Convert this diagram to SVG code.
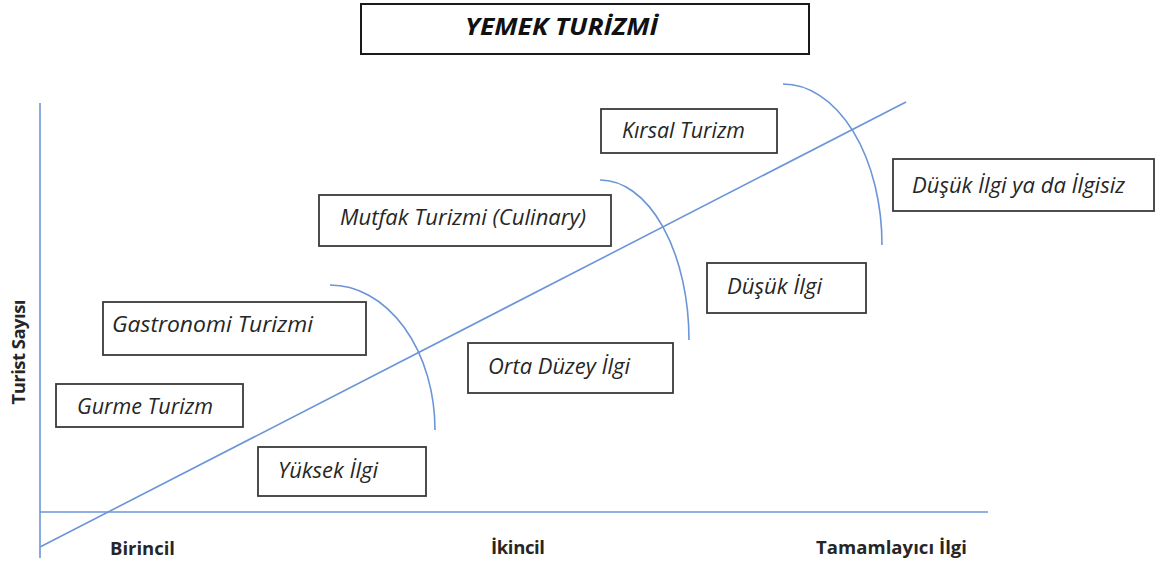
<svg xmlns="http://www.w3.org/2000/svg" width="1159" height="567" viewBox="0 0 1159 567">
<style>
.box{fill:#fff;stroke:#3a3a3a;stroke-width:1.8}
.lbl{font-family:"Open Sans","Noto Sans",sans-serif;font-style:italic;font-size:22.5px;fill:#262626}
.ax{font-family:"Open Sans","Noto Sans",sans-serif;font-weight:bold;font-size:18.5px;fill:#262626}
.ln{fill:none;stroke:#6b95d8;stroke-width:1.6}
</style>
<rect width="1159" height="567" fill="#fff"/>
<g id="title">
<rect x="361" y="4" width="448" height="50" fill="#fff" stroke="#1a1a1a" stroke-width="2"/>
<text x="465" y="35" font-family="Open Sans,sans-serif" font-weight="bold" font-style="italic" font-size="23" fill="#111" textLength="193" lengthAdjust="spacingAndGlyphs">YEMEK TURİZMİ</text>
</g>
<g id="connectors">
<line class="ln" x1="40" y1="103" x2="40" y2="558"/>
<line class="ln" x1="40" y1="512" x2="988" y2="512"/>
<line class="ln" x1="40" y1="547" x2="906" y2="102"/>
<path class="ln" d="M330,285 A105,145 0 0 1 435,430"/>
<path class="ln" d="M600,180 A89,160 0 0 1 689,340"/>
<path class="ln" d="M783,84 A99,161 0 0 1 882,245"/>
</g>
<g id="axis-labels">
<text class="ax" transform="translate(25,352) rotate(-90)" text-anchor="middle" textLength="105">Turist Sayısı</text>
<text class="ax" x="110" y="555" textLength="65">Birincil</text>
<text class="ax" x="491" y="554" textLength="54">İkincil</text>
<text class="ax" x="816" y="554" textLength="151">Tamamlayıcı İlgi</text>
</g>
<g id="gurme"><rect class="box" x="56" y="384" width="187" height="43"/><text class="lbl" x="77" y="414" textLength="136" lengthAdjust="spacingAndGlyphs">Gurme Turizm</text></g>
<g id="gastronomi"><rect class="box" x="103" y="302" width="263" height="53"/><text class="lbl" x="112" y="332" textLength="201" lengthAdjust="spacingAndGlyphs">Gastronomi Turizmi</text></g>
<g id="yuksek"><rect class="box" x="258" y="447" width="168" height="49"/><text class="lbl" x="278" y="478" textLength="100" lengthAdjust="spacingAndGlyphs">Yüksek İlgi</text></g>
<g id="mutfak"><rect class="box" x="319" y="195" width="292" height="51"/><text class="lbl" x="340" y="225" textLength="246" lengthAdjust="spacingAndGlyphs">Mutfak Turizmi (Culinary)</text></g>
<g id="orta"><rect class="box" x="468" y="343" width="205" height="50"/><text class="lbl" x="488" y="374" textLength="142" lengthAdjust="spacingAndGlyphs">Orta Düzey İlgi</text></g>
<g id="kirsal"><rect class="box" x="601" y="109" width="176" height="44"/><text class="lbl" x="622" y="138" textLength="123" lengthAdjust="spacingAndGlyphs">Kırsal Turizm</text></g>
<g id="dusuk"><rect class="box" x="707" y="263" width="159" height="50"/><text class="lbl" x="727" y="294" textLength="95" lengthAdjust="spacingAndGlyphs">Düşük İlgi</text></g>
<g id="dusuk-ilgisiz"><rect class="box" x="893" y="159" width="261" height="52"/><text class="lbl" x="912" y="193" textLength="213" lengthAdjust="spacingAndGlyphs">Düşük İlgi ya da İlgisiz</text></g>
</svg>
